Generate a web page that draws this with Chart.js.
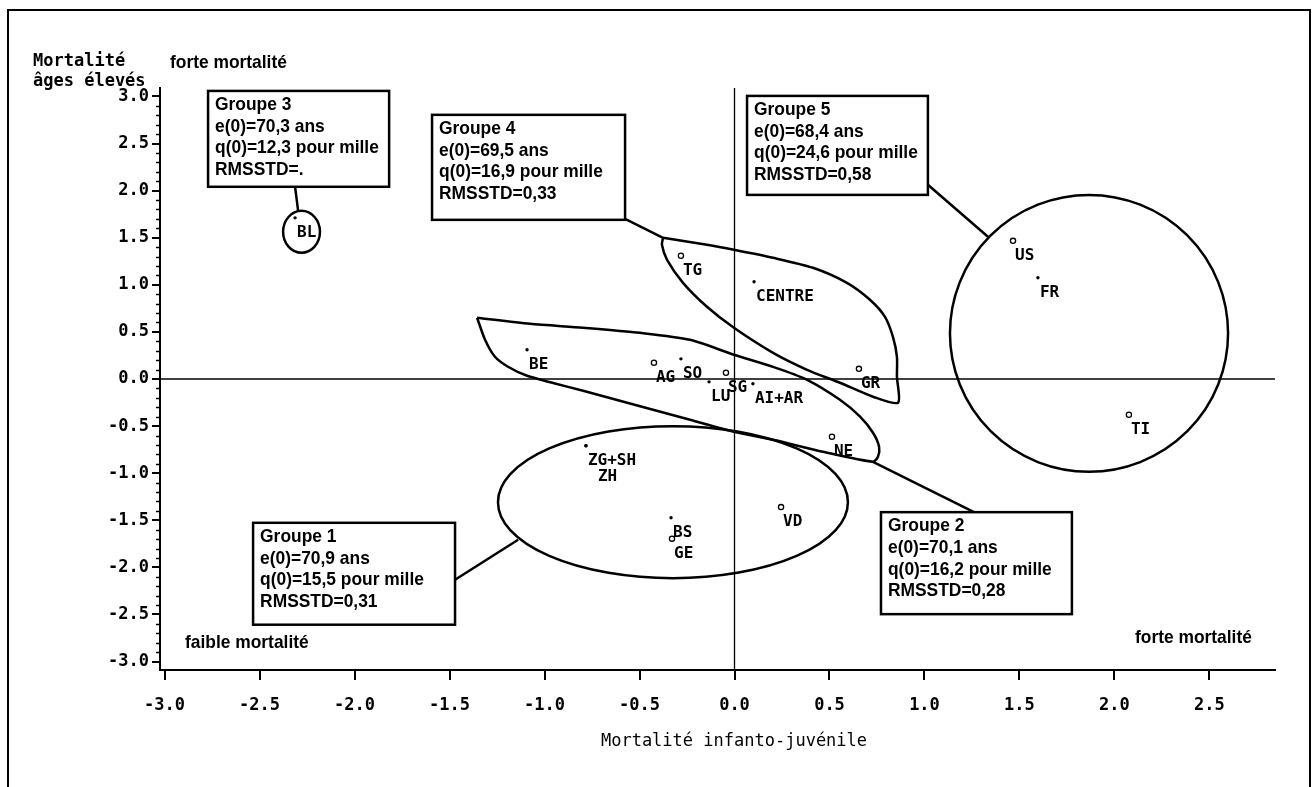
<!DOCTYPE html>
<html>
<head>
<meta charset="utf-8">
<script src="https://cdn.jsdelivr.net/npm/chart.js@4.4.0/dist/chart.umd.min.js"></script>
<style>
  html, body { margin: 0; padding: 0; background: #fff; }
  canvas { display: block; }
</style>
</head>
<body>
<canvas id="chart" width="1313" height="787"></canvas>
<script>
// Cantons: infant mortality (x) vs old-age mortality (y)
const openLabels = ['TG', 'AG', 'SG', 'GR', 'NE', 'GE', 'VD', 'US', 'TI'];
const openX = [-0.282, -0.424, -0.045, 0.655, 0.513, -0.329, 0.245, 1.466, 2.076];
const openY = [1.308, 0.172, 0.066, 0.108, -0.613, -1.695, -1.360, 1.467, -0.379];

const dotLabels = ['BL', 'CENTRE', 'BE', 'SO', 'LU', 'AI+AR', 'ZG+SH', 'ZH', 'BS', 'FR'];
const dotX = [-2.313, 0.103, -1.092, -0.282, -0.134, 0.097, -0.782, -0.782, -0.334, 1.597];
const dotY = [1.711, 1.032, 0.310, 0.214, -0.030, -0.051, -0.709, -0.709, -1.473, 1.075];

const xTicks = [-3.0, -2.5, -2.0, -1.5, -1.0, -0.5, 0.0, 0.5, 1.0, 1.5, 2.0, 2.5];
const yTicks = [-3.0, -2.5, -2.0, -1.5, -1.0, -0.5, 0.0, 0.5, 1.0, 1.5, 2.0, 2.5, 3.0];
const xMin = -3.024, xMax = 2.845;
const yMin = -3.09, yMax = 3.09;

// Group summaries
const groupNames = ['Groupe 1', 'Groupe 2', 'Groupe 3', 'Groupe 4', 'Groupe 5'];
const groupE0 = ['70,9', '70,1', '70,3', '69,5', '68,4'];
const groupQ0 = ['15,5', '16,2', '12,3', '16,9', '24,6'];
const groupRms = ['0,31', '0,28', '.', '0,33', '0,58'];

// Group outlines (data units)
const g2X = [-1.355, -1.076, -0.797, -0.497, -0.234, -0.003, 0.203, 0.382, 0.555, 0.661, 0.729, 0.761, 0.755, 0.729,
             0.466, 0.203, -0.003, -0.234, -0.497, -0.797, -0.945, -1.092, -1.192, -1.261, -1.313, -1.355];
const g2Y = [0.650, 0.586, 0.544, 0.490, 0.416, 0.257, 0.129, -0.008, -0.220, -0.400, -0.571, -0.720, -0.826, -0.879,
             -0.773, -0.645, -0.560, -0.433, -0.290, -0.125, -0.047, 0.034, 0.130, 0.236, 0.417, 0.650];
const g4X = [-0.376, -0.145, -0.003, 0.203, 0.413, 0.592, 0.713, 0.792, 0.834, 0.855, 0.855, 0.861,
             0.729, 0.555, 0.382, 0.203, -0.003, -0.145, -0.271, -0.355, -0.382, -0.376];
const g4Y = [1.499, 1.425, 1.372, 1.287, 1.181, 1.021, 0.841, 0.660, 0.448, 0.236, 0.023, -0.252,
             -0.188, -0.040, 0.098, 0.278, 0.544, 0.767, 1.021, 1.265, 1.425, 1.499];

// Elliptic groups: 1, 3, 5
const ellCX = [-0.324, -2.279, 1.866];
const ellCY = [-1.308, 1.563, 0.485];
const ellRX = [0.921, 0.097, 0.732];
const ellRY = [0.807, 0.223, 1.470];

// Layout of the annotation boxes [x1, y1, x2, y2] and their leader lines, in data units
const boxes = [
    [-2.534, -1.527, -1.471, -2.609],
    [0.771, -1.414, 1.776, -2.497],
    [-2.771, 3.059, -1.818, 2.041],
    [-1.592, 2.805, -0.576, 1.690],
    [0.066, 3.006, 1.018, 1.955]
];
const leaders = [
    [[-1.471, -2.132], [-1.139, -1.707]],
    [[0.729, -0.879], [1.266, -1.420]],
    [[-2.313, 2.041], [-2.297, 1.786]],
    [[-0.576, 1.701], [-0.376, 1.499]],
    [[1.018, 2.062], [1.334, 1.510]]
];

const toPts = (xs, ys) => xs.map((x, i) => ({ x, y: ys[i] }));
const MONO = "'DejaVu Sans Mono', monospace";
const SANS = "'Liberation Sans', Arial, sans-serif";

const outline = (data) => ({
    data, showLine: true, fill: false, borderColor: '#000', borderWidth: 2.5,
    pointRadius: 0, tension: 0.25
});

const datasets = [
    { data: [{ x: xMin, y: 0 }, { x: xMax, y: 0 }], showLine: true, borderColor: '#000', borderWidth: 1.3, pointRadius: 0 },
    { data: [{ x: 0, y: yMin }, { x: 0, y: yMax }], showLine: true, borderColor: '#000', borderWidth: 1.3, pointRadius: 0 },
    outline(toPts(g2X, g2Y)),
    outline(toPts(g4X, g4Y)),
    ...leaders.map(l => ({
        data: l.map(p => ({ x: p[0], y: p[1] })), showLine: true,
        borderColor: '#000', borderWidth: 2.5, pointRadius: 0
    })),
    {
        labels: openLabels, data: toPts(openX, openY), showLine: false,
        pointRadius: 2.6, pointBorderWidth: 1.3, pointBorderColor: '#000', pointBackgroundColor: '#fff'
    },
    {
        labels: dotLabels, data: toPts(dotX, dotY), showLine: false,
        pointRadius: 1.7, pointBorderWidth: 0, pointBackgroundColor: '#000'
    }
];

function squeeze(ctx, txt, x, y, sx) {
    ctx.save();
    ctx.translate(x, y);
    ctx.scale(sx, 1);
    ctx.fillText(txt, 0, 0);
    ctx.restore();
}

const decor = {
    id: 'decor',
    afterDatasetsDraw(chart) {
        const ctx = chart.ctx;
        const xs = chart.scales.x, ys = chart.scales.y;
        const px = v => xs.getPixelForValue(v);
        const py = v => ys.getPixelForValue(v);
        const area = chart.chartArea;
        ctx.save();
        ctx.strokeStyle = '#000';
        ctx.fillStyle = '#000';

        // ellipses
        ctx.lineWidth = 2.5;
        ellCX.forEach((cx, i) => {
            const cxp = px(cx), cyp = py(ellCY[i]);
            const rx = Math.abs(px(cx + ellRX[i]) - cxp);
            const ry = Math.abs(py(ellCY[i] + ellRY[i]) - cyp);
            ctx.beginPath();
            ctx.ellipse(cxp, cyp, rx, ry, 0, 0, Math.PI * 2);
            ctx.stroke();
        });

        // minor ticks on y axis
        ctx.lineWidth = 1.5;
        for (let k = -30; k <= 30; k++) {
            if (k % 5 === 0) continue;
            const y = Math.round(py(k / 10)) + 0.5;
            ctx.beginPath();
            ctx.moveTo(area.left - 4, y);
            ctx.lineTo(area.left, y);
            ctx.stroke();
        }

        // point labels
        ctx.font = 'bold 16px ' + MONO;
        ctx.textBaseline = 'middle';
        ctx.textAlign = 'left';
        chart.data.datasets.forEach((ds, di) => {
            if (!ds.labels) return;
            const meta = chart.getDatasetMeta(di);
            ds.labels.forEach((lab, j) => {
                const el = meta.data[j];
                let dx = 2, dy = 15;
                if (lab === 'ZH') { dx = 12; dy = 31; }
                ctx.fillText(lab, el.x + dx, el.y + dy);
            });
        });

        // group boxes
        boxes.forEach((b, i) => {
            const x1 = px(b[0]), y1 = py(b[1]), x2 = px(b[2]), y2 = py(b[3]);
            ctx.fillStyle = '#fff';
            ctx.fillRect(x1, y1, x2 - x1, y2 - y1);
            ctx.lineWidth = 2.5;
            ctx.strokeRect(x1, y1, x2 - x1, y2 - y1);
            ctx.fillStyle = '#000';
            ctx.font = 'bold 18.5px ' + SANS;
            const lines = [
                groupNames[i],
                'e(0)=' + groupE0[i] + ' ans',
                'q(0)=' + groupQ0[i] + ' pour mille',
                'RMSSTD=' + groupRms[i]
            ];
            lines.forEach((t, k) => squeeze(ctx, t, x1 + 7, y1 + 14 + k * 21.7, 0.94));
        });

        // quadrant captions
        ctx.font = 'bold 18.5px ' + SANS;
        squeeze(ctx, 'forte mortalité', 170, 63, 0.94);
        squeeze(ctx, 'faible mortalité', 185, 643, 0.94);
        squeeze(ctx, 'forte mortalité', 1135, 638, 0.94);

        // axis titles
        ctx.font = 'bold 17px ' + MONO;
        ctx.fillText('Mortalité', 33, 62);
        ctx.fillText('âges élevés', 33, 82);
        ctx.font = '17px ' + MONO;
        ctx.textAlign = 'center';
        ctx.fillText('Mortalité infanto-juvénile', 734, 742);

        // outer frame
        ctx.lineWidth = 2;
        ctx.strokeRect(8, 10, 1302, 800);
        ctx.restore();
    }
};

new Chart(document.getElementById('chart'), {
    type: 'scatter',
    data: { datasets },
    options: {
        responsive: false,
        animation: false,
        layout: { padding: { top: 88, right: 38, left: 0, bottom: 0 } },
        plugins: { legend: { display: false }, tooltip: { enabled: false } },
        scales: {
            x: {
                type: 'linear', min: xMin, max: xMax,
                afterBuildTicks: s => { s.ticks = xTicks.map(v => ({ value: v })); },
                afterFit: s => { s.height = 117; },
                ticks: {
                    callback: v => Number(v).toFixed(1), color: '#000', padding: 15,
                    maxRotation: 0, autoSkip: false, font: { family: MONO, size: 17, weight: 'bold' }
                },
                grid: { drawOnChartArea: false, drawTicks: true, tickLength: 10, color: '#000', lineWidth: 2 },
                border: { display: true, color: '#000', width: 2 }
            },
            y: {
                type: 'linear', min: yMin, max: yMax,
                afterBuildTicks: s => { s.ticks = yTicks.map(v => ({ value: v })); },
                afterFit: s => { s.width = 160; },
                ticks: {
                    callback: v => Number(v).toFixed(1), color: '#000', padding: 3,
                    autoSkip: false, font: { family: MONO, size: 17, weight: 'bold' }
                },
                grid: { drawOnChartArea: false, drawTicks: true, tickLength: 8, color: '#000', lineWidth: 2 },
                border: { display: true, color: '#000', width: 2 }
            }
        }
    },
    plugins: [decor]
});
</script>
</body>
</html>
